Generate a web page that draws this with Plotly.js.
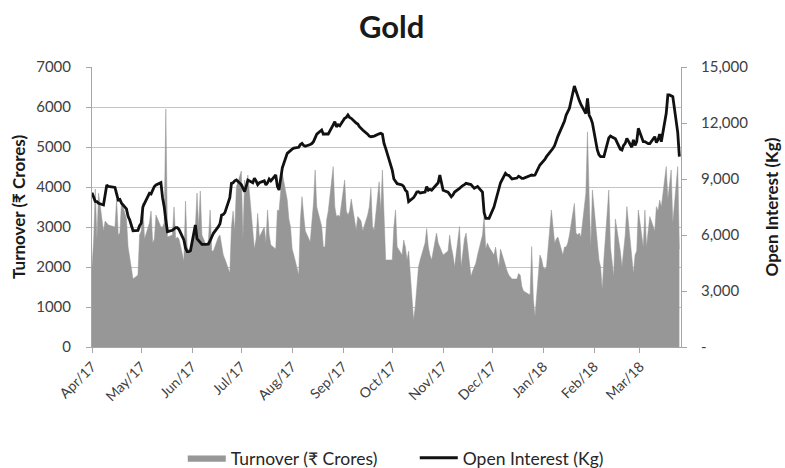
<!DOCTYPE html>
<html>
<head>
<meta charset="utf-8">
<script src="https://cdn.plot.ly/plotly-3.0.1.min.js"></script>
<style>html,body{margin:0;padding:0;background:#fff;}#chart{width:785px;height:468px;}</style>
</head>
<body>
<div id="chart"></div>
<script>
var dates = [
'2017-04-03','2017-04-04','2017-04-05','2017-04-06','2017-04-07','2017-04-10','2017-04-11','2017-04-12','2017-04-13','2017-04-17','2017-04-18','2017-04-19','2017-04-20','2017-04-21','2017-04-24','2017-04-25','2017-04-26','2017-04-27','2017-04-28',
'2017-05-01','2017-05-02','2017-05-03','2017-05-04','2017-05-05','2017-05-08','2017-05-09','2017-05-10','2017-05-11','2017-05-12','2017-05-15','2017-05-16','2017-05-17','2017-05-18','2017-05-19','2017-05-22','2017-05-23','2017-05-24','2017-05-25','2017-05-26','2017-05-29','2017-05-30','2017-05-31',
'2017-06-01','2017-06-02','2017-06-05','2017-06-06','2017-06-07','2017-06-08','2017-06-09','2017-06-12','2017-06-13','2017-06-14','2017-06-15','2017-06-16','2017-06-19','2017-06-20','2017-06-21','2017-06-22','2017-06-23','2017-06-26','2017-06-27','2017-06-28','2017-06-29','2017-06-30',
'2017-07-03','2017-07-04','2017-07-05','2017-07-06','2017-07-07','2017-07-10','2017-07-11','2017-07-12','2017-07-13','2017-07-14','2017-07-17','2017-07-18','2017-07-19','2017-07-20','2017-07-21','2017-07-24','2017-07-25','2017-07-26','2017-07-27','2017-07-28','2017-07-31',
'2017-08-01','2017-08-02','2017-08-03','2017-08-04','2017-08-07','2017-08-08','2017-08-09','2017-08-10','2017-08-11','2017-08-14','2017-08-15','2017-08-16','2017-08-17','2017-08-18','2017-08-21','2017-08-22','2017-08-23','2017-08-24','2017-08-25','2017-08-28','2017-08-29','2017-08-30','2017-08-31',
'2017-09-01','2017-09-04','2017-09-05','2017-09-06','2017-09-07','2017-09-08','2017-09-11','2017-09-12','2017-09-13','2017-09-14','2017-09-15','2017-09-18','2017-09-19','2017-09-20','2017-09-21','2017-09-22','2017-09-25','2017-09-26','2017-09-27','2017-09-28','2017-09-29',
'2017-10-03','2017-10-04','2017-10-05','2017-10-06','2017-10-09','2017-10-10','2017-10-11','2017-10-12','2017-10-13','2017-10-16','2017-10-17','2017-10-18','2017-10-19','2017-10-20','2017-10-23','2017-10-24','2017-10-25','2017-10-26','2017-10-27','2017-10-30','2017-10-31',
'2017-11-01','2017-11-02','2017-11-03','2017-11-06','2017-11-07','2017-11-08','2017-11-09','2017-11-10','2017-11-13','2017-11-14','2017-11-15','2017-11-16','2017-11-17','2017-11-20','2017-11-21','2017-11-22','2017-11-23','2017-11-24','2017-11-27','2017-11-28','2017-11-29','2017-11-30',
'2017-12-01','2017-12-04','2017-12-05','2017-12-06','2017-12-07','2017-12-08','2017-12-11','2017-12-12','2017-12-13','2017-12-14','2017-12-15','2017-12-18','2017-12-19','2017-12-20','2017-12-21','2017-12-22','2017-12-26','2017-12-27','2017-12-28','2017-12-29',
'2018-01-01','2018-01-02','2018-01-03','2018-01-04','2018-01-05','2018-01-08','2018-01-09','2018-01-10','2018-01-11','2018-01-12','2018-01-15','2018-01-16','2018-01-17','2018-01-18','2018-01-19','2018-01-22','2018-01-23','2018-01-24','2018-01-25','2018-01-26','2018-01-29','2018-01-30','2018-01-31',
'2018-02-01','2018-02-02','2018-02-05','2018-02-06','2018-02-07','2018-02-08','2018-02-09','2018-02-12','2018-02-13','2018-02-14','2018-02-15','2018-02-16','2018-02-19','2018-02-20','2018-02-21','2018-02-22','2018-02-23','2018-02-26','2018-02-27','2018-02-28',
'2018-03-01','2018-03-02','2018-03-05','2018-03-06','2018-03-07','2018-03-08','2018-03-09','2018-03-12','2018-03-13','2018-03-14','2018-03-15','2018-03-16','2018-03-19','2018-03-20','2018-03-21','2018-03-22','2018-03-23','2018-03-26','2018-03-27'
];

var turnover = [
2000,2650,3950,2700,3850,2900,3150,3100,3050,3000,3700,2800,2850,3650,3200,2500,2200,2000,1700,
1800,2800,2900,3600,2700,3100,3400,2600,2700,3300,3000,3000,3100,5950,2750,2800,3500,2700,2750,2700,2150,3650,2500,
2400,2450,3000,3850,3000,3900,2800,2500,2700,3425,2400,2400,2750,2800,2500,2300,2200,1850,3000,3400,2900,4000,
4400,2700,4175,3900,4300,2850,2450,2700,3340,2750,3000,2600,3425,2800,2550,2450,3425,3400,3925,4340,3675,
3200,3000,2450,2300,1800,3175,3760,3300,2900,2630,3175,3600,4425,3500,3010,2500,2500,3175,3400,4510,3500,3260,3300,
3250,4175,3400,3300,3400,3700,2925,3260,3200,3150,2900,3300,3500,3970,3000,2925,4130,3400,4425,3000,2175,
2175,3000,3425,2500,2300,2675,2500,2175,2400,675,1000,1460,2000,2175,2600,2960,2500,2300,2175,2850,2600,
2500,2400,2300,2400,2800,2500,2300,2000,3010,2000,2300,2700,2850,1760,1900,2000,2100,2300,2800,3260,2450,2600,
2500,2300,2500,2200,2000,2450,2000,1900,1800,1760,1700,1700,1840,1800,1510,1400,1300,2510,1200,760,
2300,2200,2000,1950,2000,3425,2925,2600,2700,2750,2300,2500,2500,2600,2800,3590,2850,2800,2850,2750,3840,5380,3800,
2480,3925,2600,2175,2000,1425,2200,3925,2500,2100,1760,3200,2400,2000,2400,2800,3510,2200,1840,2300,
2400,3425,2500,3425,2500,2900,3260,2900,3510,3400,3675,3500,4510,3700,4000,4425,3100,4510,2450
];

var openInterest = [
8266,8000,7800,7785,7700,7607,8100,8678,8600,8550,8200,7875,7900,7700,7400,7000,6803,6500,6230,
6250,6500,6626,7500,7697,8233,8200,8400,8600,8678,8803,8000,7516,6800,6177,6250,6350,6391,6391,6300,5732,5300,5105,
5105,5150,6535,5800,5700,5550,5501,5500,5520,5700,5900,6091,6445,6600,7071,7100,7200,8000,8769,8800,8900,8946,
8700,8500,8321,8600,8946,8800,9036,8900,8700,8800,8900,8678,8800,9000,8900,9214,8600,8410,9100,9600,10375,
10450,10553,10600,10650,10700,10850,10910,10800,10750,10850,10900,11000,11177,11400,11624,11400,11420,11410,11410,11900,12070,11800,11900,
11850,12250,12300,12428,12300,12250,12000,11950,11800,11700,11624,11400,11300,11266,11280,11300,11420,11446,11400,10900,10643,
9482,9000,8857,8750,8678,8600,8400,8321,7785,8000,8143,8300,8321,8250,8300,8588,8400,8450,8400,8678,8800,
9214,8800,8400,8300,8200,8053,8150,8300,8500,8600,8650,8700,8769,8700,8600,8500,8550,8600,8300,7200,6894,6900,
6894,7500,7800,8200,8500,8800,9300,9214,9200,9100,9000,9050,9150,9100,9036,9036,9214,9214,9200,9214,
9750,9850,9928,10050,10196,10500,10643,10800,11089,11300,11900,12100,12428,12600,12785,13982,13700,13400,13200,13000,12500,13321,12428,
12250,12000,10553,10300,10196,10196,10200,11200,11303,11250,11200,11150,10600,10553,10800,10910,11177,10700,11100,10800,
11000,11714,10999,11000,10950,10900,10900,11266,10950,11100,11410,11000,12517,13500,13500,13450,13410,11500,10196
];

var monthTicks = ['2017-04-03','2017-05-03','2017-06-03','2017-07-03','2017-08-03','2017-09-03','2017-10-03','2017-11-03','2017-12-03','2018-01-03','2018-02-03','2018-03-03'];
var monthLabels = ['Apr/17','May/17','Jun/17','Jul/17','Aug/17','Sep/17','Oct/17','Nov/17','Dec/17','Jan/18','Feb/18','Mar/18'];
var leftTicks = [0,1000,2000,3000,4000,5000,6000,7000];
var rightTicks = [0,3000,6000,9000,12000,15000];
var rightLabels = ['-','3,000','6,000','9,000','12,000','15,000'];

var FONT = 'Lato, "Noto Sans", "DejaVu Sans", sans-serif';

var traces = [
  {
    type: 'scatter', mode: 'lines', name: 'Turnover (₹ Crores)',
    x: dates, y: turnover, fill: 'tozeroy',
    fillcolor: '#979797', line: {color: '#979797', width: 0.5},
    xaxis: 'x', yaxis: 'y'
  },
  {
    type: 'scatter', mode: 'lines', name: 'Open Interest (Kg)',
    x: dates, y: openInterest,
    line: {color: '#111111', width: 2.8},
    xaxis: 'x', yaxis: 'y2'
  }
];

var axisLine = '#a6a6a6';
var layout = {
  width: 785, height: 468,
  margin: {l: 92, r: 104, t: 67, b: 121, autoexpand: false},
  paper_bgcolor: '#ffffff', plot_bgcolor: '#ffffff',
  font: {family: FONT, color: '#404040', size: 15},
  title: {
    text: '<b>Gold</b>', font: {family: FONT, size: 31, color: '#1a1a1a'},
    x: 0.499, xref: 'container', xanchor: 'center',
    y: 0.942, yref: 'container', yanchor: 'middle'
  },
  xaxis: {
    type: 'date', range: ['2017-04-03', '2018-03-28'], automargin: false,
    tickmode: 'array', tickvals: monthTicks, ticktext: monthLabels,
    tickangle: -45, tickfont: {size: 14, color: '#404040'},
    showgrid: false, zeroline: false,
    showline: true, linecolor: axisLine, linewidth: 1,
    ticks: 'outside', ticklen: 5, tickcolor: axisLine
  },
  yaxis: {
    range: [0, 7000], tickmode: 'array', tickvals: leftTicks, automargin: false,
    tickfont: {size: 15, color: '#404040'}, ticklabelstandoff: 12,
    showgrid: true, gridcolor: '#c4c4c4', gridwidth: 1,
    zeroline: false, showline: true, linecolor: axisLine, linewidth: 1,
    ticks: 'outside', ticklen: 5, tickcolor: axisLine,
    title: {text: '<b>Turnover (₹ Crores)</b>', font: {size: 17, color: '#1a1a1a'}, standoff: 6}
  },
  yaxis2: {
    overlaying: 'y', side: 'right', anchor: 'x', automargin: false,
    range: [0, 15000], tickmode: 'array', tickvals: rightTicks, ticktext: rightLabels,
    tickfont: {size: 15, color: '#404040'}, ticklabelstandoff: 11,
    showgrid: false, zeroline: false,
    showline: true, linecolor: axisLine, linewidth: 1,
    ticks: 'outside', ticklen: 5, tickcolor: axisLine,
    title: {text: '<b>Open Interest (Kg)</b>', font: {size: 17, color: '#1a1a1a'}, standoff: 18}
  },
  showlegend: true,
  legend: {
    orientation: 'h', x: 0.548, xanchor: 'center', y: -0.396, yanchor: 'middle',
    itemwidth: 38, entrywidth: 179,
    font: {size: 17.5, color: '#262626'}, bgcolor: 'rgba(0,0,0,0)'
  }
};

Plotly.newPlot('chart', traces, layout, {displayModeBar: false, staticPlot: true});
</script>
</body>
</html>
